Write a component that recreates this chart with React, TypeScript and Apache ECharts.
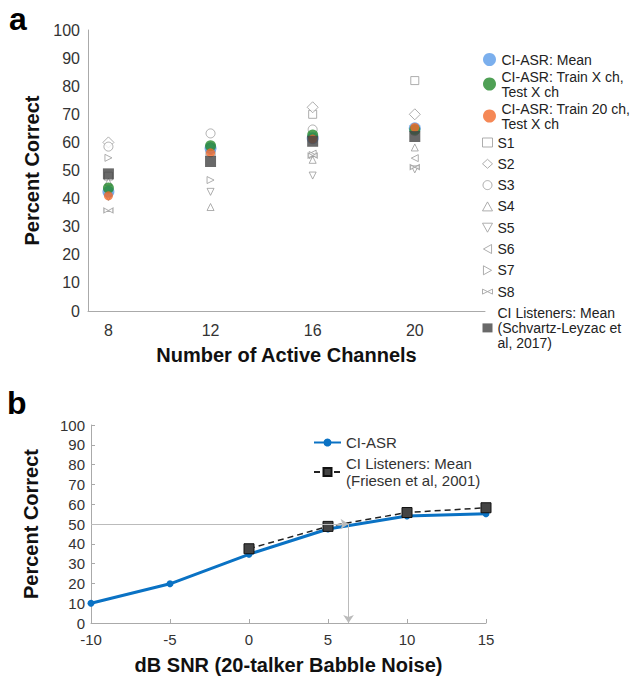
import React, { useEffect, useRef } from "react";
import * as echarts from "echarts";

// ---------- Panel a data ----------
const channels = [8, 12, 16, 20];
const asrMean = [42.4, 57.9, 61.5, 65.0];
const asrTrainX = [43.8, 58.8, 62.6, 64.5];
const asrTrain20 = [41.0, 56.3, 61.2, 65.3];
const ciListenersA = [48.8, 53.2, 60.4, 62.1];
const s1 = [48, 58, 70, 82];
const s2 = [60, 58, 72.5, 70];
const s3 = [58.5, 63.2, 64.6, 64];
const s4 = [46, 37, 53.8, 58.2];
const s5 = [40.5, 42.4, 48.2, 50.4];
const s6 = [42, 57, 56, 54.4];
const s7 = [54.5, 46.6, 55.5, 64];
const s8 = [35.8, 56, 55.3, 51.2];
const channelTicks = [8, 12, 16, 20];

// ---------- Panel b data ----------
const snr = [-10, -5, 0, 5, 10, 15];
const asrSnr = [10, 19.8, 34.7, 47.5, 54, 55.2];
const snrListeners = [0, 5, 10, 15];
const ciListenersB = [37.5, 48.8, 55.8, 58.2];
const threshold = [6.3, 50];

const FONT = "'Liberation Sans', Arial, Helvetica, sans-serif";
const GRAY = "#9a9a9a";
const BOWTIE = "path://M0,0L10,5L0,10Z M20,0L10,5L20,10Z";
const TRI_UP = "path://M5,0L10,9L0,9Z";
const TRI_DOWN = "path://M0,0L10,0L5,9Z";
const TRI_LEFT = "path://M0,5L9,0L9,10Z";
const TRI_RIGHT = "path://M0,0L9,5L0,10Z";

const pairs = (xs: number[], ys: number[]) => xs.map((x, i) => [x, ys[i]]);

export default function App() {
  const ref = useRef<HTMLDivElement>(null);
  useEffect(() => {
    if (!ref.current) return;
    document.body.style.margin = "0";
    const chart = echarts.init(ref.current, null, { renderer: "svg" });

    const subj = [
      { name: "S1", data: s1, symbol: "rect", size: 8 },
      { name: "S2", data: s2, symbol: "diamond", size: 11 },
      { name: "S3", data: s3, symbol: "circle", size: 9 },
      { name: "S4", data: s4, symbol: TRI_UP, size: 7 },
      { name: "S5", data: s5, symbol: TRI_DOWN, size: 7 },
      { name: "S6", data: s6, symbol: TRI_LEFT, size: 7 },
      { name: "S7", data: s7, symbol: TRI_RIGHT, size: 7 },
      { name: "S8", data: s8, symbol: BOWTIE, size: [9, 5] as any },
    ];
    const emptyStyle = { color: "#ffffff", borderColor: GRAY, borderWidth: 1 };

    const subjSeries = subj.map((s) => ({
      type: "scatter",
      name: s.name,
      xAxisIndex: 0,
      yAxisIndex: 0,
      symbol: s.symbol,
      symbolSize: s.size,
      itemStyle: emptyStyle,
      data: pairs(channels, s.data),
      z: 2,
    }));

    const listenerNameA = "CI Listeners: Mean\n(Schvartz-Leyzac et\nal, 2017)";
    const trainXName = "CI-ASR: Train X ch,\nTest X ch";
    const train20Name = "CI-ASR: Train 20 ch,\nTest X ch";
    const listenerNameB = "CI Listeners: Mean\n(Friesen et al, 2001)";

    const tickLabel = (size: number) => ({
      color: "#333",
      fontSize: size,
      fontFamily: FONT,
    });
    const titleStyle = {
      color: "#111",
      fontSize: 20,
      fontWeight: "bold",
      fontFamily: FONT,
    };
    const axisLine = { show: true, onZero: false, lineStyle: { color: "#aaa", width: 1 } };
    const legendText = { color: "#222", fontSize: 14, lineHeight: 15, fontFamily: FONT };

    chart.setOption({
      animation: false,
      backgroundColor: "#ffffff",
      textStyle: { fontFamily: FONT },
      grid: [
        { left: 88, right: 147, top: 30, bottom: 372 },
        { left: 91, right: 146, top: 425, bottom: 60 },
      ],
      xAxis: [
        {
          type: "value",
          gridIndex: 0,
          min: 7.2,
          max: 22.75,
          axisLine,
          axisTick: { show: false },
          splitLine: { show: false },
          axisLabel: { ...tickLabel(16), customValues: channelTicks, margin: 11 },
          name: "Number of Active Channels",
          nameLocation: "middle",
          nameGap: 34,
          nameTextStyle: titleStyle,
        },
        {
          type: "value",
          gridIndex: 1,
          min: -10,
          max: 15,
          interval: 5,
          axisLine,
          axisTick: { show: true, inside: true, length: 4, lineStyle: { color: "#aaa" } },
          splitLine: { show: false },
          axisLabel: { ...tickLabel(15), margin: 9 },
          name: "dB SNR (20-talker Babble Noise)",
          nameLocation: "middle",
          nameGap: 32,
          nameTextStyle: titleStyle,
        },
      ],
      yAxis: [
        {
          type: "value",
          gridIndex: 0,
          min: 0,
          max: 100,
          interval: 10,
          axisLine,
          axisTick: { show: false },
          splitLine: { show: false },
          axisLabel: { ...tickLabel(16), margin: 8 },
          name: "Percent Correct",
          nameLocation: "middle",
          nameGap: 46,
          nameTextStyle: titleStyle,
        },
        {
          type: "value",
          gridIndex: 1,
          min: 0,
          max: 100,
          interval: 10,
          axisLine,
          axisTick: { show: true, inside: true, length: 4, lineStyle: { color: "#aaa" } },
          splitLine: { show: false },
          axisLabel: { ...tickLabel(15), margin: 6 },
          name: "Percent Correct",
          nameLocation: "middle",
          nameGap: 50,
          nameTextStyle: titleStyle,
        },
      ],
      legend: [
        {
          orient: "vertical",
          left: 483,
          top: 52,
          padding: 0,
          itemWidth: 14,
          itemHeight: 13,
          itemGap: 2,
          textStyle: legendText,
          data: [
            { name: "CI-ASR: Mean", icon: "circle", itemStyle: { color: "#5a9be8" } },
            { name: trainXName, icon: "circle", itemStyle: { color: "#23882a" } },
            { name: train20Name, icon: "circle", itemStyle: { color: "#f26a2c" } },
          ],
        },
        {
          orient: "vertical",
          left: 482,
          top: 135,
          padding: 0,
          itemWidth: 10,
          itemHeight: 9,
          itemGap: 6.3,
          textStyle: legendText,
          data: [
            ...subj.map((s) => ({
              name: s.name,
              icon: s.symbol,
              itemStyle: emptyStyle,
            })),
            { name: listenerNameA, icon: "rect", itemStyle: { color: "#444", borderWidth: 0 } },
          ],
        },
        {
          orient: "vertical",
          left: 313,
          top: 434,
          padding: 0,
          itemWidth: 27,
          itemHeight: 10,
          itemGap: 4,
          textStyle: { color: "#333", fontSize: 15, lineHeight: 17, fontFamily: FONT },
          data: ["CI-ASR", listenerNameB],
        },
      ],
      series: [
        ...subjSeries,
        {
          type: "scatter",
          name: "CI-ASR: Mean",
          xAxisIndex: 0,
          yAxisIndex: 0,
          symbol: "circle",
          symbolSize: 12,
          itemStyle: { color: "#5a9be8" },
          data: pairs(channels, asrMean),
          z: 3,
        },
        {
          type: "scatter",
          name: trainXName,
          xAxisIndex: 0,
          yAxisIndex: 0,
          symbol: "circle",
          symbolSize: 11,
          itemStyle: { color: "#23882a" },
          data: pairs(channels, asrTrainX),
          z: 4,
        },
        {
          type: "scatter",
          name: train20Name,
          xAxisIndex: 0,
          yAxisIndex: 0,
          symbol: "circle",
          symbolSize: 9,
          itemStyle: { color: "#f26a2c" },
          data: pairs(channels, asrTrain20),
          z: 5,
        },
        {
          type: "scatter",
          name: listenerNameA,
          xAxisIndex: 0,
          yAxisIndex: 0,
          symbol: "rect",
          symbolSize: 11,
          itemStyle: { color: "#444" },
          data: pairs(channels, ciListenersA),
          z: 6,
        },
        {
          type: "line",
          name: "CI-ASR",
          xAxisIndex: 1,
          yAxisIndex: 1,
          symbol: "circle",
          symbolSize: 7,
          lineStyle: { color: "#0a72c4", width: 3 },
          itemStyle: { color: "#0a72c4" },
          data: pairs(snr, asrSnr),
          z: 3,
          markLine: {
            silent: true,
            symbol: ["none", "arrow"],
            symbolSize: 8,
            label: { show: false },
            lineStyle: { color: "#bbbbbb", width: 1, type: "solid" },
            data: [
              [{ coord: [-10, threshold[1]] }, { coord: [threshold[0], threshold[1]] }],
              [{ coord: [threshold[0], threshold[1]] }, { coord: [threshold[0], 0] }],
            ],
          },
        },
        {
          type: "line",
          name: listenerNameB,
          xAxisIndex: 1,
          yAxisIndex: 1,
          symbol: "rect",
          symbolSize: 10,
          lineStyle: { color: "#222", width: 1.5, type: [6, 4] },
          itemStyle: { color: "#444", borderColor: "#111", borderWidth: 1 },
          data: pairs(snrListeners, ciListenersB),
          z: 4,
        },
      ],
      graphic: [
        {
          type: "text",
          left: 9,
          top: 3,
          style: { text: "a", font: `bold 32px ${FONT}`, fill: "#000" },
        },
        {
          type: "text",
          left: 7,
          top: 387,
          style: { text: "b", font: `bold 32px ${FONT}`, fill: "#000" },
        },
      ],
    });
    return () => chart.dispose();
  }, []);
  return <div ref={ref} style={{ width: 632, height: 683 }} />;
}
